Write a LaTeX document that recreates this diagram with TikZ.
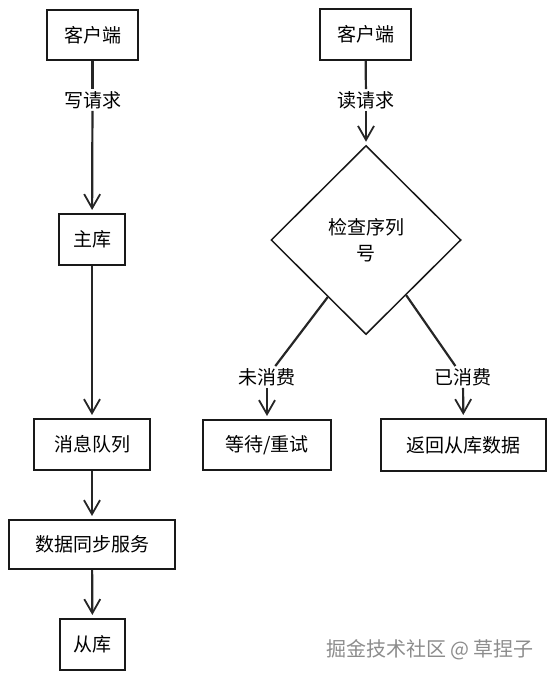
\documentclass[tikz,border=0pt]{standalone}
\usepackage{fontspec}
\setmainfont{Noto Sans CJK SC}
\usetikzlibrary{arrows.meta,shapes.geometric,calc}
\tikzset{
  box/.style={draw=black!90, line width=2.1pt, inner sep=0pt, font=\fontsize{19}{22}\selectfont},
  lbl/.style={inner sep=2pt, font=\fontsize{19}{22}\selectfont},
  conn/.style={draw=black!85, line width=2.2pt},
  arr/.style={conn, -{Straight Barb[length=14pt,width=16pt,line width=1.8pt]}, shorten >=3pt},
  dia/.style={draw=black!90, line width=1.5pt, shape=diamond, inner sep=0pt,
              minimum width=190pt, minimum height=189pt, align=center,
              font=\fontsize{19}{26}\selectfont}
}
\begin{document}
\begin{tikzpicture}[x=1pt,y=-1pt]
\useasboundingbox (0,0) rectangle (556,680);
% left column
\node[box, minimum width=91pt, minimum height=50pt] (c1) at (92.5,35) {客户端};
\node[lbl] (w) at (92.5,100) {写请求};
\node[box, minimum width=66pt, minimum height=51pt] (m) at (92,239.5) {主库};
\node[box, minimum width=116pt, minimum height=51pt] (q) at (92,444.5) {消息队列};
\node[box, minimum width=166pt, minimum height=49pt] (s) at (92,544.5) {数据同步服务};
\node[box, minimum width=65pt, minimum height=51pt] (r) at (92.5,644.5) {从库};
\draw[conn] (c1) -- (w);
\draw[arr] (w) -- (m);
\draw[arr] (m) -- (q);
\draw[arr] (q) -- (s);
\draw[arr] (s) -- (r);
% right column
\node[box, minimum width=91pt, minimum height=51pt] (c2) at (365.5,34.5) {客户端};
\node[lbl] (rd) at (366,100) {读请求};
\node[dia] (d) at (366,240) {检查序列\\号};
\node[lbl] (l1) at (267,377) {未消费};
\node[lbl] (l2) at (463,377) {已消费};
\node[box, minimum width=128pt, minimum height=50pt] (wt) at (267,445) {等待/重试};
\node[box, minimum width=165pt, minimum height=52pt] (rt) at (463.5,445) {返回从库数据};
\draw[conn] (c2) -- (rd);
\draw[arr] (rd) -- (d.north);
\coordinate (e1) at ($(d.west)!0.6!(d.south)$);
\coordinate (e2) at ($(d.east)!0.58!(d.south)$);
\draw[conn] (e1) -- (l1);
\draw[conn] (e2) -- (l2);
\draw[arr] (l1) -- (wt);
\draw[arr] (l2) -- (rt);
% watermark
\node[inner sep=0pt, text=black!45, font=\fontsize{20}{22}\selectfont] (wm) at (430,650) {掘金技术社区 @ 草捏子};
\end{tikzpicture}
\end{document}
